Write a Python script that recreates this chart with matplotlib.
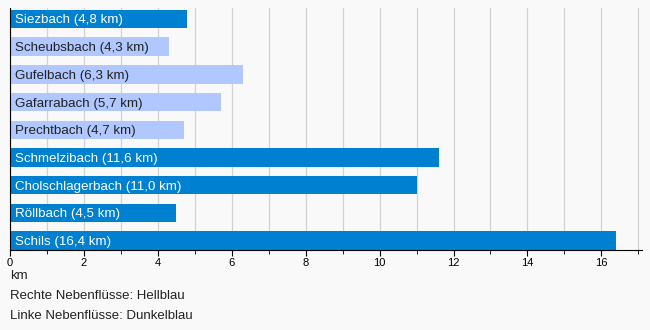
import matplotlib.pyplot as plt
from matplotlib.ticker import MultipleLocator

names = ["Siezbach", "Scheubsbach", "Gufelbach", "Gafarrabach", "Prechtbach",
         "Schmelzibach", "Cholschlagerbach", "Röllbach", "Schils"]
lengths = [4.8, 4.3, 6.3, 5.7, 4.7, 11.6, 11.0, 4.5, 16.4]
sides = ["L", "R", "R", "R", "R", "L", "L", "L", "L"]  # R = rechts (hell), L = links (dunkel)

dark = "#0080d0"
light = "#b0c8ff"
bg = "#f9f9f9"

plt.rcParams['font.family'] = ['Liberation Sans', 'DejaVu Sans']

fig = plt.figure(figsize=(6.5, 3.3), dpi=100, facecolor=bg)
ax = fig.add_axes([10 / 650, 1 - 250 / 330, 632 / 650, 242 / 330], facecolor=bg)

ypos = list(range(len(names)))
colors = [dark if s == "L" else light for s in sides]
ax.barh(ypos, lengths, height=0.67, color=colors, zorder=2)

for y, n, v, s in zip(ypos, names, lengths, sides):
    label = f"{n} ({str(v).replace('.', ',')} km)"
    ax.text(0.14, y + 0.05, label, va="center", ha="left", fontsize=9.6,
            color="white" if s == "L" else "#222222", zorder=3)

ax.set_xlim(0, 17.1)
ax.set_ylim(8.34, -0.4)
ax.set_yticks([])
ax.xaxis.set_major_locator(MultipleLocator(2))
ax.xaxis.set_minor_locator(MultipleLocator(1))
ax.grid(axis="x", which="both", color="#d2d2d2", linewidth=0.9, zorder=0)
ax.tick_params(axis="x", which="major", length=4, labelsize=8, pad=2, color="black")
ax.tick_params(axis="x", which="minor", length=3, color="black")
for side in ["top", "right"]:
    ax.spines[side].set_visible(False)
ax.spines["left"].set_color("black")
ax.spines["bottom"].set_color("black")

fig.text(10 / 650, 1 - 276 / 330, "km", fontsize=9.5, va="center", ha="left", color="#222222")
fig.text(10 / 650, 1 - 296 / 330, "Rechte Nebenflüsse: Hellblau", fontsize=9.5, va="center", ha="left", color="#222222")
fig.text(10 / 650, 1 - 316 / 330, "Linke Nebenflüsse: Dunkelblau", fontsize=9.5, va="center", ha="left", color="#222222")

fig.savefig("out.png", dpi=100, facecolor=bg)
